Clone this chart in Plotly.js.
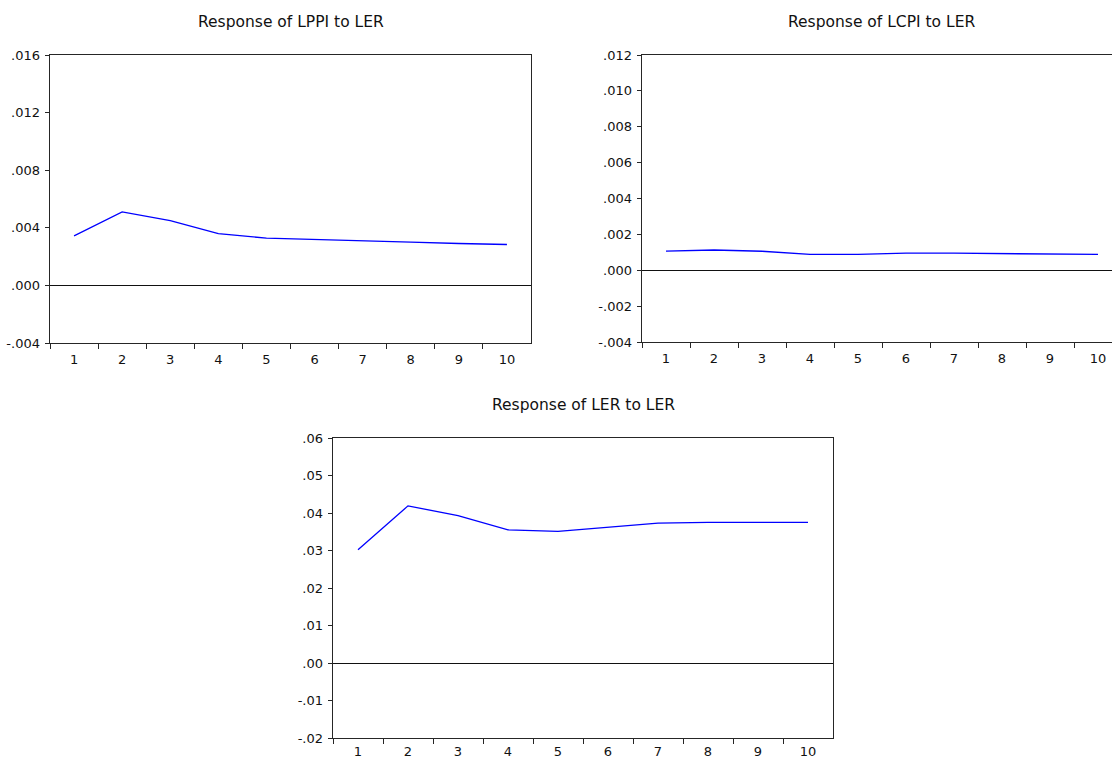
<!DOCTYPE html>
<html>
<head>
<meta charset="utf-8">
<script src="https://cdn.plot.ly/plotly-3.0.1.min.js"></script>
<style>
  html, body { margin: 0; padding: 0; overflow: hidden; background: #fff; }
  #chart { width: 1130px; height: 760px; }
</style>
</head>
<body>
<div id="chart"></div>
<script>
// ---- data ----
const periods = ['1', '2', '3', '4', '5', '6', '7', '8', '9', '10'];

const titles = ['Response of LPPI to LER', 'Response of LCPI to LER', 'Response of LER to LER'];

const lppiToLer = [0.00344, 0.00510, 0.00450, 0.00360, 0.00328, 0.00317, 0.00307, 0.00300, 0.00291, 0.00284];
const lcpiToLer = [0.00107, 0.00113, 0.00106, 0.00088, 0.00088, 0.00096, 0.00095, 0.00092, 0.00090, 0.00088];
const lerToLer  = [0.0302, 0.0419, 0.0393, 0.0355, 0.0351, 0.0363, 0.0373, 0.0375, 0.0375, 0.0375];

const yTicks1 = [-0.004, 0.000, 0.004, 0.008, 0.012, 0.016];
const yText1  = ['-.004', '.000', '.004', '.008', '.012', '.016'];
const yTicks2 = [-0.004, -0.002, 0.000, 0.002, 0.004, 0.006, 0.008, 0.010, 0.012];
const yText2  = ['-.004', '-.002', '.000', '.002', '.004', '.006', '.008', '.010', '.012'];
const yTicks3 = [-0.02, -0.01, 0.00, 0.01, 0.02, 0.03, 0.04, 0.05, 0.06];
const yText3  = ['-.02', '-.01', '.00', '.01', '.02', '.03', '.04', '.05', '.06'];

// ---- layout helpers ----
const W = 1130, H = 760;
const fx = p => p / W;
const fy = p => 1 - p / H;
const FONT = 'DejaVu Sans, Arial, sans-serif';
const AXC = '#262626';

function xAxis(domain, anchor, standoff) {
  return {
    domain: domain, anchor: anchor, type: 'category',
    range: [-0.5, periods.length - 0.5], autorange: false,
    tickson: 'boundaries', ticks: 'outside', ticklen: 5, tickwidth: 1, tickcolor: AXC,
    ticklabelstandoff: standoff,
    showline: true, mirror: true, linecolor: AXC, linewidth: 1.4,
    showgrid: false, zeroline: false,
    tickfont: { family: FONT, size: 13, color: '#111' },
    fixedrange: true
  };
}
function yAxis(domain, anchor, range, vals, text) {
  return {
    domain: domain, anchor: anchor, range: range,
    tickmode: 'array', tickvals: vals, ticktext: text,
    ticks: 'outside', ticklen: 4, tickwidth: 1, tickcolor: AXC,
    ticklabelstandoff: 2,
    showline: true, mirror: true, linecolor: AXC, linewidth: 1.4,
    showgrid: false, zeroline: true, zerolinecolor: '#111', zerolinewidth: 1,
    tickfont: { family: FONT, size: 13, color: '#111' },
    fixedrange: true
  };
}

const lineStyle = { color: '#0000ff', width: 1.3 };

const traces = [
  { x: periods, y: lppiToLer, xaxis: 'x', yaxis: 'y', mode: 'lines', line: lineStyle, hoverinfo: 'skip' },
  { x: periods, y: lcpiToLer, xaxis: 'x2', yaxis: 'y2', mode: 'lines', line: lineStyle, hoverinfo: 'skip' },
  { x: periods, y: lerToLer, xaxis: 'x3', yaxis: 'y3', mode: 'lines', line: lineStyle, hoverinfo: 'skip' }
];

const layout = {
  width: W, height: H,
  margin: { l: 0, r: 0, t: 0, b: 0 },
  paper_bgcolor: '#fff', plot_bgcolor: '#fff',
  showlegend: false,
  xaxis:  xAxis([fx(50), fx(531)], 'y', 4),
  yaxis:  yAxis([fy(343), fy(55)], 'x', [-0.004, 0.016], yTicks1, yText1),
  xaxis2: xAxis([fx(642), fx(1122)], 'y2', 4),
  yaxis2: yAxis([fy(342), fy(55)], 'x2', [-0.004, 0.012], yTicks2, yText2),
  xaxis3: xAxis([fx(333), fx(833)], 'y3', 1),
  yaxis3: yAxis([fy(738), fy(438)], 'x3', [-0.02, 0.06], yTicks3, yText3),
  annotations: [
    { text: titles[0], xref: 'paper', yref: 'paper', x: fx(290.5), y: fy(22), xanchor: 'center', yanchor: 'middle', showarrow: false, font: { family: FONT, size: 15.5, color: '#111' } },
    { text: titles[1], xref: 'paper', yref: 'paper', x: fx(882), y: fy(22), xanchor: 'center', yanchor: 'middle', showarrow: false, font: { family: FONT, size: 15.5, color: '#111' } },
    { text: titles[2], xref: 'paper', yref: 'paper', x: fx(583), y: fy(405), xanchor: 'center', yanchor: 'middle', showarrow: false, font: { family: FONT, size: 15.5, color: '#111' } }
  ]
};

Plotly.newPlot('chart', traces, layout, { staticPlot: true, displayModeBar: false });
</script>
</body>
</html>
